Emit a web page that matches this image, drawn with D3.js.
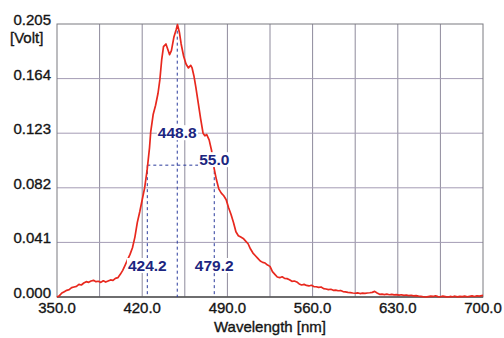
<!DOCTYPE html>
<html>
<head>
<meta charset="utf-8">
<script src="https://cdn.jsdelivr.net/npm/d3@7"></script>
<style>
  html, body { margin: 0; padding: 0; background: #fff; }
  svg { display: block; font-family: "Liberation Sans", Arial, sans-serif; }
</style>
</head>
<body>
<svg id="chart" width="504" height="338"></svg>
<script>
// spectrum
const wavelengths = [
  350, 352, 354, 356, 358, 360, 362, 364, 366, 368, 370, 372, 374, 376, 378, 380,
  382, 384, 386, 388, 390, 392, 394, 396, 398, 400, 402, 404, 406, 408, 410, 412,
  414, 416, 418, 420, 422, 424, 426, 427, 429, 431, 433, 434.5, 436, 437.5, 439.5,
  441, 442.5, 444, 446, 448, 449, 450.5, 452, 454, 456, 458, 459.8, 461, 462.5,
  464, 466, 468, 470, 471.5, 473, 475, 477, 479, 481, 483, 485, 487, 489, 491,
  493, 495, 497, 499, 501, 503, 505, 507, 509, 511, 513, 515, 517, 519, 521, 523,
  525, 527, 529, 531, 533, 535, 537, 539, 541, 543, 545, 547, 549, 551, 553, 555,
  557, 559, 561, 563, 565, 567, 569, 571, 573, 575, 577, 579, 581, 583, 585, 587,
  589, 591, 593, 595, 597, 599, 601, 603, 605, 607, 609, 611, 613, 615, 617, 619,
  621, 623, 625, 627, 629, 631, 633, 635, 637, 639, 641, 643, 645, 647, 649, 651,
  653, 655, 657, 659, 661, 663, 665, 667, 669, 671, 673, 675, 677, 679, 681, 683,
  685, 687, 689, 691, 693, 695, 697, 700
];
const volts = [
  0.000, 0.001, 0.003, 0.004, 0.005, 0.0055, 0.007, 0.0075, 0.008, 0.0095, 0.009, 0.0105, 0.0115, 0.011, 0.012, 0.0125,
  0.0115, 0.0118, 0.011, 0.0122, 0.0112, 0.012, 0.0128, 0.0125, 0.014, 0.0145, 0.017, 0.020, 0.024, 0.028, 0.032, 0.037,
  0.045, 0.056, 0.064, 0.073, 0.082, 0.095, 0.112, 0.124, 0.137, 0.144, 0.153, 0.163, 0.178, 0.188, 0.190,
  0.186, 0.182, 0.185, 0.195, 0.201, 0.2045, 0.199, 0.190, 0.181, 0.175, 0.172, 0.174, 0.172, 0.166,
  0.158, 0.146, 0.134, 0.123, 0.121, 0.122, 0.118, 0.110, 0.097, 0.088, 0.081, 0.078, 0.076, 0.073, 0.067,
  0.062, 0.056, 0.049, 0.046, 0.045, 0.044, 0.042, 0.040, 0.036, 0.033, 0.031, 0.029, 0.027, 0.026, 0.0255, 0.024,
  0.023, 0.019, 0.017, 0.015, 0.0145, 0.0152, 0.014, 0.0138, 0.013, 0.0118, 0.012, 0.0113, 0.0098, 0.009, 0.0095, 0.0087,
  0.0083, 0.0088, 0.0078, 0.0077, 0.0072, 0.0075, 0.0063, 0.006, 0.0055, 0.0058, 0.005, 0.0052, 0.0047, 0.0049, 0.0041, 0.0038,
  0.0035, 0.0033, 0.003, 0.0028, 0.0031, 0.0026, 0.0029, 0.0027, 0.003, 0.0032, 0.0035, 0.0042, 0.003, 0.002, 0.0022, 0.0018,
  0.0021, 0.0017, 0.002, 0.0016, 0.0018, 0.0014, 0.0017, 0.0012, 0.0015, 0.001, 0.0013, 0.0008, 0.001, 0.0006, 0.0004, 0.0002,
  0.0, 0.0003, 0.0006, 0.0004, 0.0009, 0.0003, 0.0002, 0.0006, 0.0003, 0.0, 0.0004, 0.0002, 0.0006, 0.0001, 0.0005, 0.0003,
  0.0007, 0.0002, 0.0005, 0.0008, 0.0004, 0.0009, 0.0006, 0.0012
];

const xTicks = [350, 420, 490, 560, 630, 700];
const xGrid = [385, 420, 455, 490, 525, 560, 595, 630, 665];
const yTicks = [0, 0.041, 0.082, 0.123, 0.164, 0.205];

// FWHM markers
const peakNm = 448.8;
const leftNm = 424.2;
const rightNm = 479.2;
const halfMax = 0.099;
const fwhmText = '55.0';

const W = 504, H = 338;
const m = { top: 24, right: 21, bottom: 41, left: 57 };
const iw = W - m.left - m.right, ih = H - m.top - m.bottom;

const svg = d3.select('#chart');
const g = svg.append('g').attr('transform', `translate(${m.left},${m.top})`);

const x = d3.scaleLinear().domain([350, 700]).range([0, iw]);
const y = d3.scaleLinear().domain([0, 0.205]).range([ih, 0]);

// grid
g.append('g').selectAll('line').data(xGrid).join('line')
  .attr('x1', d => x(d)).attr('x2', d => x(d))
  .attr('y1', 0).attr('y2', ih)
  .attr('stroke', '#8e8a9c').attr('stroke-width', 1);
g.append('g').selectAll('line').data(yTicks.slice(1, -1)).join('line')
  .attr('x1', 0).attr('x2', iw)
  .attr('y1', d => y(d)).attr('y2', d => y(d))
  .attr('stroke', '#a49cb4').attr('stroke-width', 1);

// frame
g.append('rect').attr('width', iw).attr('height', ih)
  .attr('fill', 'none').attr('stroke', '#7a7a80').attr('stroke-width', 1);
g.append('line').attr('x1', 0).attr('x2', iw).attr('y1', ih).attr('y2', ih)
  .attr('stroke', '#555').attr('stroke-width', 1.5);

// dashed markers
const blue = '#2a3a9c';
const dash = '3,3';
const marks = g.append('g').attr('stroke', blue).attr('stroke-width', 1)
  .attr('stroke-dasharray', dash).attr('fill', 'none');
marks.append('line')
  .attr('x1', x(peakNm)).attr('x2', x(peakNm)).attr('y1', y(0.2045)).attr('y2', ih);
marks.selectAll('.v').data([leftNm, rightNm]).join('line')
  .attr('x1', d => x(d)).attr('x2', d => x(d)).attr('y1', y(halfMax)).attr('y2', ih);
marks.append('line')
  .attr('x1', x(leftNm)).attr('x2', x(rightNm)).attr('y1', y(halfMax)).attr('y2', y(halfMax));

// spectrum
const pts = wavelengths.map((w, i) => [w, volts[i]]);
g.append('path').datum(pts)
  .attr('fill', 'none').attr('stroke', '#e8281e').attr('stroke-width', 1.7)
  .attr('stroke-linejoin', 'round')
  .attr('d', d3.line().x(d => x(d[0])).y(d => y(d[1])));

// annotation labels with white boxes
const labels = [
  { t: peakNm.toFixed(1), x: x(peakNm), y: y(0.123) + 5 },
  { t: fwhmText, x: x(rightNm), y: y(halfMax) },
  { t: leftNm.toFixed(1), x: x(leftNm), y: ih - 26 },
  { t: rightNm.toFixed(1), x: x(rightNm), y: ih - 26 },
];
const lg = g.append('g');
labels.forEach(l => {
  const t = lg.append('text')
    .attr('x', l.x).attr('y', l.y)
    .attr('text-anchor', 'middle')
    .attr('font-size', 15.5).attr('font-weight', 'bold')
    .attr('fill', '#1c2580').text(l.t);
  const b = t.node().getBBox();
  lg.insert('rect', 'text')
    .attr('x', b.x - 1).attr('y', b.y + 1)
    .attr('width', b.width + 2).attr('height', b.height - 2)
    .attr('fill', '#fff');
});

// y tick labels
const ink = '#151515';
svg.append('g').selectAll('text').data(yTicks).join('text')
  .attr('x', 51).attr('y', d => m.top + y(d) + 1)
  .attr('text-anchor', 'end')
  .attr('font-size', 15).attr('fill', ink)
  .attr('stroke', ink).attr('stroke-width', 0.35)
  .text(d => d.toFixed(3));
svg.append('text').attr('x', 10).attr('y', 43)
  .attr('font-size', 15).attr('fill', ink)
  .attr('stroke', ink).attr('stroke-width', 0.35)
  .text('[Volt]');

// x tick labels
svg.append('g').selectAll('text').data(xTicks).join('text')
  .attr('x', d => m.left + x(d)).attr('y', H - 25)
  .attr('text-anchor', 'middle')
  .attr('font-size', 15).attr('fill', ink)
  .attr('stroke', ink).attr('stroke-width', 0.35)
  .text(d => d.toFixed(1));
svg.append('text').attr('x', m.left + iw / 2).attr('y', H - 6)
  .attr('text-anchor', 'middle')
  .attr('font-size', 15).attr('fill', ink)
  .attr('stroke', ink).attr('stroke-width', 0.35)
  .text('Wavelength [nm]');
</script>
</body>
</html>
